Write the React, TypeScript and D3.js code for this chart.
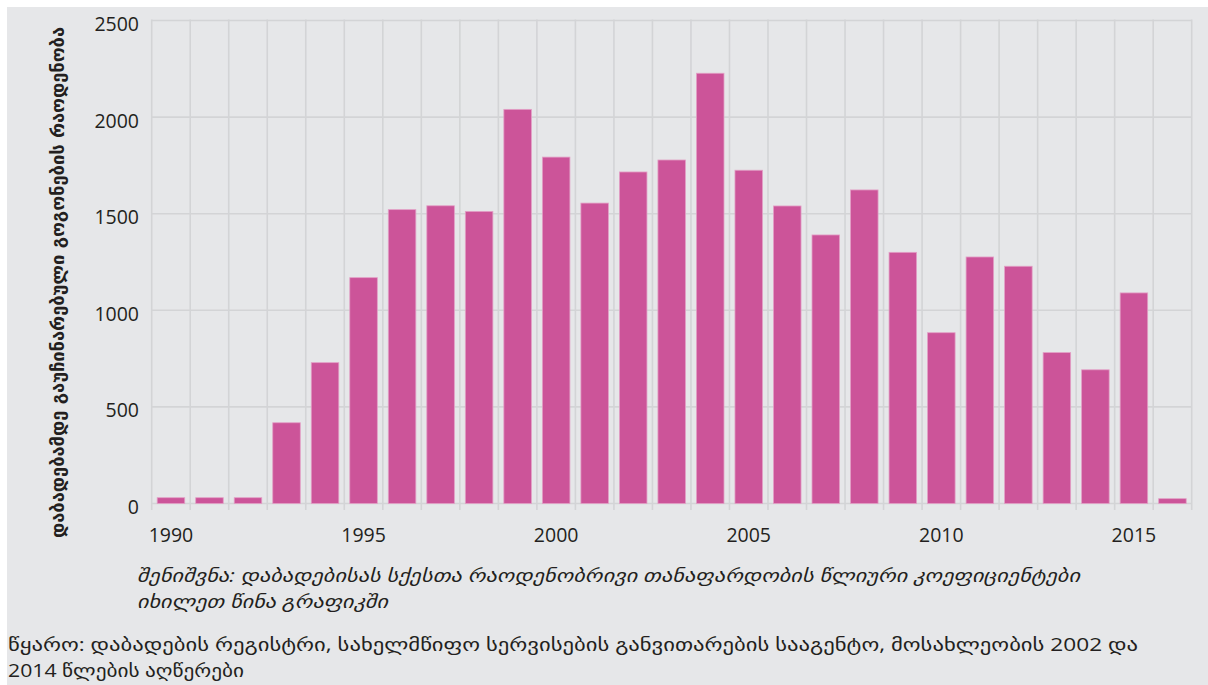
import React from "react";
import * as d3 from "d3";

const years: number[] = d3.range(1990, 2017);
const values: number[] = [
  30, 30, 30, 418, 729, 1169, 1521, 1541, 1512, 2040, 1793, 1555, 1716, 1778,
  2227, 1725, 1540, 1390, 1623, 1300, 884, 1276, 1228, 781, 692, 1090, 25,
];
const yTicks: number[] = [0, 500, 1000, 1500, 2000, 2500];
const xLabelYears: number[] = [1990, 1995, 2000, 2005, 2010, 2015];
const yTitle = "დაბადებამდე გაუჩინარებული გოგონების რაოდენობა";
const noteLines: string[] = [
  "შენიშვნა: დაბადებისას სქესთა რაოდენობრივი თანაფარდობის წლიური კოეფიციენტები",
  "იხილეთ წინა გრაფიკში",
];
const sourceLines: string[] = [
  "წყარო: დაბადების რეგისტრი, სახელმწიფო სერვისების განვითარების სააგენტო, მოსახლეობის 2002 და",
  "2014 წლების აღწერები",
];

const W = 1208;
const H = 685;
const left = 151.7;
const right = 1191.7;
const top = 20.5;
const bottom = 503.5;

const BG = "#e6e7e9";
const GRID = "#d3d4d6";
const BAR = "#cc5499";
const TEXT = "#231f20";
const FONT = "'Open Sans', 'DejaVu Sans', sans-serif";

export default function App() {
  const x = d3
    .scaleBand<number>()
    .domain(years)
    .range([left, right])
    .paddingInner(0.285)
    .paddingOuter(0.1425);
  const y = d3.scaleLinear().domain([0, 2500]).range([bottom, top]);
  const step = x.step();
  const boundaries = d3.range(years.length + 1).map((i) => left + i * step);

  return (
    <svg
      width={W}
      height={H}
      style={{ position: "absolute", left: 0, top: 0, display: "block" }}
    >
      <rect x={0} y={0} width={W} height={H} fill="#ffffff" />
      <rect x={7} y={7} width={W - 7} height={H - 7} fill={BG} />
      {yTicks.map((t) => (
        <line
          key={"h" + t}
          x1={left}
          x2={right}
          y1={y(t)}
          y2={y(t)}
          stroke={GRID}
          strokeWidth={1.6}
        />
      ))}
      {boundaries.map((bx, i) => (
        <line
          key={"v" + i}
          x1={bx}
          x2={bx}
          y1={top - 1}
          y2={bottom + 6.5}
          stroke={GRID}
          strokeWidth={1.6}
        />
      ))}
      {years.map((yr, i) => (
        <rect
          key={"b" + yr}
          x={x(yr)}
          y={y(values[i])}
          width={x.bandwidth()}
          height={bottom - y(values[i])}
          fill={BAR}
          stroke="#e3a0c6"
          strokeWidth={0.8}
        />
      ))}
      {yTicks.map((t) => (
        <text
          key={"yl" + t}
          x={139}
          y={y(t) + 3}
          textAnchor="end"
          dominantBaseline="central"
          fontFamily={FONT}
          fontSize={19.5}
          fill={TEXT}
        >
          {t}
        </text>
      ))}
      {xLabelYears.map((yr) => (
        <text
          key={"xl" + yr}
          x={(x(yr) as number) + x.bandwidth() / 2}
          y={542}
          textAnchor="middle"
          fontFamily={FONT}
          fontSize={19.5}
          fill={TEXT}
        >
          {yr}
        </text>
      ))}
      <text
        transform={`translate(58,282.5) rotate(-90)`}
        textAnchor="middle"
        dominantBaseline="central"
        fontFamily="'DejaVu Sans', sans-serif"
        fontWeight="bold"
        fontSize={17.5}
        fill={TEXT}
        textLength={511}
        lengthAdjust="spacingAndGlyphs"
      >
        {yTitle}
      </text>
      <text
        x={137}
        y={582}
        fontFamily={FONT}
        fontStyle="italic"
        fontSize={18}
        fill={TEXT}
        textLength={943}
        lengthAdjust="spacingAndGlyphs"
      >
        {noteLines[0]}
      </text>
      <text
        x={137}
        y={608}
        fontFamily={FONT}
        fontStyle="italic"
        fontSize={18}
        fill={TEXT}
        textLength={251}
        lengthAdjust="spacingAndGlyphs"
      >
        {noteLines[1]}
      </text>
      <text
        x={8}
        y={651}
        fontFamily={FONT}
        fontSize={18}
        fill={TEXT}
        textLength={1130}
        lengthAdjust="spacingAndGlyphs"
      >
        {sourceLines[0]}
      </text>
      <text
        x={8}
        y={677}
        fontFamily={FONT}
        fontSize={18}
        fill={TEXT}
        textLength={236}
        lengthAdjust="spacingAndGlyphs"
      >
        {sourceLines[1]}
      </text>
    </svg>
  );
}
